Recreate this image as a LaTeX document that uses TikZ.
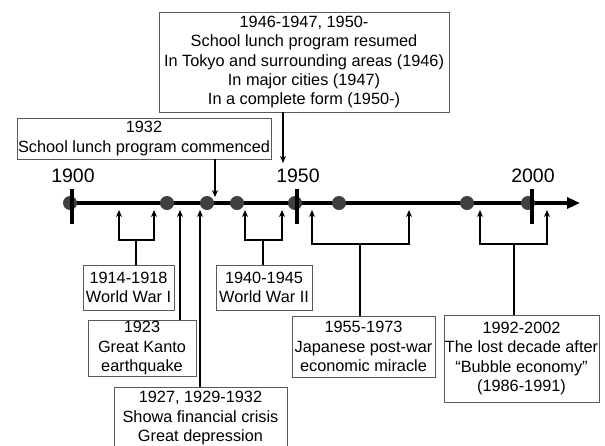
\documentclass[tikz,border=0pt]{standalone}
\usepackage{fontspec}
\setmainfont{Liberation Sans}
\usetikzlibrary{arrows.meta}

\begin{document}
\begin{tikzpicture}
[x=1pt, y=-1pt,
  dotdecorate/.style={shape=circle,inner sep=0pt,minimum size=14pt,fill=black!75},
  boxdecorate/.style={shape=rectangle,draw=black!65,line width=0.9pt,inner sep=0pt,
    align=center,font=\fontsize{16.3}{19.2}\selectfont},
  yeardecorate/.style={font=\fontsize{19.5}{23}\selectfont},
  linedecorate/.style={-{Stealth[length=7pt,width=6pt]},line width=1.6pt},
  axisdecorate/.style={-{Triangle[length=13pt,width=11pt]},line width=3.6pt},
  tickdecorate/.style={line width=3.6pt}]
\useasboundingbox (0,0) rectangle (605,445);
%% time axis
\coordinate (origin) at (70,203);
\coordinate (axisend) at (580,203);
\draw[axisdecorate] (origin) -- (axisend);
%% events on the axis
\foreach \nodename/\x in {d1900/70, d1921/167, d1930/207, d1937/237,
  d1950/295, d1960/339, d1987/467, d2000/528}
{
  \node (\nodename) at (\x,203) [dotdecorate] {};
}
%% ticks and years
\foreach \year/\x in {1900/72, 1950/297, 2000/532}
{
  \draw[tickdecorate] (\x,189) -- (\x,224);
  \node (y\year) at (\x+1,175.5) [yeardecorate] {\year};
}
%% boxes above
\node (resumed) at (304,62) [boxdecorate,minimum width=290pt,minimum height=100pt]
  {1946-1947, 1950-\\School lunch program resumed\\In Tokyo and surrounding areas (1946)\\
   In major cities (1947)\\In a complete form (1950-)};
\node (commenced) at (144,138.5) [boxdecorate,minimum width=254pt,minimum height=41pt]
  {1932\\School lunch program commenced};
%% boxes below
\node (ww1) at (128.5,287.5) [boxdecorate,minimum width=91pt,minimum height=45pt]
  {1914-1918\\World War I};
\node (ww2) at (264,287.5) [boxdecorate,minimum width=96pt,minimum height=45pt]
  {1940-1945\\World War II};
\node (kanto) at (142,348) [boxdecorate,minimum width=108pt,minimum height=56pt]
  {1923\\Great Kanto\\earthquake};
\node (showa) at (200.5,418) [boxdecorate,minimum width=173pt,minimum height=62pt]
  {1927, 1929-1932\\Showa financial crisis\\Great depression};
\node (miracle) at (363.5,346.5) [boxdecorate,minimum width=143pt,minimum height=61pt]
  {1955-1973\\Japanese post-war\\economic miracle};
\node (lost) at (521.5,358.5) [boxdecorate,minimum width=155pt,minimum height=87pt]
  {1992-2002\\The lost decade after\\“Bubble economy”\\(1986-1991)};
%% arrows down to the axis
\coordinate (commencedtip) at (215,197);
\coordinate (resumedtip) at (283,163);
\draw[linedecorate] (commenced.south -| commencedtip) -- (commencedtip);
\draw[linedecorate] (resumed.south -| resumedtip) -- (resumedtip);
%% single arrows up to the axis
\foreach \boxname/\x in {kanto/180, showa/200}
{
  \coordinate (\boxname tip) at (\x,210);
  \draw[linedecorate] (\boxname.north -| \boxname tip) -- (\boxname tip);
}
%% brackets up to the axis
\foreach \boxname/\left/\right/\join/\y in {ww1/119/154/136/240, ww2/245/282/263/240,
  miracle/312/409/360/244, lost/480/547/514/244}
{
  \coordinate (\boxname a) at (\left,210);
  \coordinate (\boxname b) at (\right,210);
  \coordinate (\boxname join) at (\join,\y);
  \draw[linedecorate] (\boxname join) -| (\boxname a);
  \draw[linedecorate] (\boxname join) -| (\boxname b);
  \draw[line width=1.6pt] (\boxname.north -| \boxname join) -- (\boxname join);
}
\end{tikzpicture}
\end{document}
